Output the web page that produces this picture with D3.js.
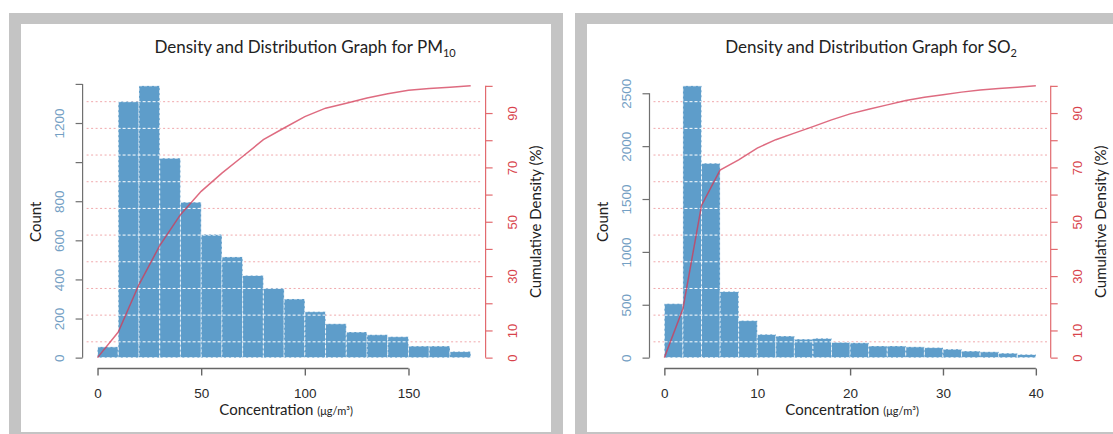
<!DOCTYPE html>
<html lang="en">
<head>
<meta charset="UTF-8">
<script src="https://d3js.org/d3.v7.min.js"></script>
<title>Density and Distribution Graphs</title>
<style>
  body { margin: 0; background: #fff; }
  svg text { font-family: "Liberation Sans", Arial, sans-serif; }
  .title, .axtitle { font-family: Lato, "Open Sans", sans-serif; fill: #222; }
  .grid-pink { stroke: #f0a9ac; stroke-width: 1; stroke-dasharray: 2 2.5; }
  .grid-white { stroke: #fff; stroke-width: 1; stroke-dasharray: 3 2; }
  .bar { fill: #5e9dca; stroke: #fff; stroke-width: 0.8; stroke-dasharray: 3 2; }
  .cum { fill: none; stroke: #d33a55; stroke-opacity: 0.75; stroke-width: 1.5; }
</style>
</head>
<body>
<svg id="chart" width="1113" height="434"></svg>
<script>
// ---- PM10 ----
const pm10Edges = [0, 10, 20, 30, 40, 50, 60, 70, 80, 90, 100, 110, 120, 130, 140, 150, 160, 170, 180];
const pm10Counts = [55, 1310, 1390, 1020, 795, 630, 515, 420, 355, 300, 235, 173, 131, 117, 107, 59, 59, 31];
const pm10CumX = [0, 10, 20, 30, 40, 50, 60, 70, 80, 90, 100, 110, 120, 130, 140, 150, 160, 170, 180];
const pm10CumPct = [0, 9.4, 26.9, 41.2, 52.6, 61.2, 67.9, 74.0, 80.2, 84.5, 88.7, 91.8, 93.6, 95.5, 97.1, 98.4, 99.0, 99.5, 100];
const pm10CountTicks = [0, 200, 400, 600, 800, 1000, 1200, 1400];
const pm10CountLabels = [0, 200, 400, 600, 800, 1200];
const pm10XTicks = [0, 50, 100, 150];

// ---- SO2 ----
const so2Edges = [0, 2, 4, 6, 8, 10, 12, 14, 16, 18, 20, 22, 24, 26, 28, 30, 32, 34, 36, 38, 40];
const so2Counts = [510, 2570, 1838, 625, 350, 220, 204, 175, 182, 145, 140, 110, 110, 102, 95, 80, 62, 55, 42, 30];
const so2CumX = [0, 2, 4, 6, 8, 10, 12, 14, 16, 18, 20, 22, 24, 26, 28, 30, 32, 34, 36, 38, 40];
const so2CumPct = [0, 18, 56, 69, 72.8, 77.1, 80.2, 82.6, 85, 87.5, 89.7, 91.4, 93, 94.6, 95.8, 96.7, 97.7, 98.5, 99, 99.5, 100];
const so2CountTicks = [0, 500, 1000, 1500, 2000, 2500];
const so2CountLabels = [0, 500, 1000, 1500, 2000, 2500];
const so2XTicks = [0, 10, 20, 30, 40];

// shared cumulative axis
const pctTicks = [0, 10, 20, 30, 40, 50, 60, 70, 80, 90, 100];
const pctLabels = [0, 10, 30, 50, 70, 90];

const svg = d3.select("#chart");

// gray frames round each panel
function frame(x, w) {
  svg.append("rect").attr("x", x).attr("y", 13).attr("width", w).attr("height", 430).attr("fill", "#c4c4c4");
  svg.append("rect").attr("x", x + 12).attr("y", 24).attr("width", w - 24).attr("height", 408).attr("fill", "#fff");
}
frame(9, 554);
frame(575, 562);

function drawPanel(p) {
  // plot region, R style: data range padded 4% each side
  const padX = (p.right - p.left) * 0.04 / 1.08;
  const padY = (p.bottom - p.top) * 0.04 / 1.08;
  const x = d3.scaleLinear()
    .domain([p.edges[0], p.edges[p.edges.length - 1]])
    .range([p.left + padX, p.right - padX]);
  const yCount = d3.scaleLinear()
    .domain([0, d3.max(p.counts)])
    .range([p.bottom - padY, p.top + padY]);
  const yPct = d3.scaleLinear()
    .domain([0, 100])
    .range([p.bottom - padY, p.top + padY]);

  const bins = p.counts.map((c, i) => ({ x0: p.edges[i], x1: p.edges[i + 1], n: c }));
  const gridY = d3.range(1, 11).map(i => p.bottom - i * (p.bottom - p.top) / 11);

  const g = svg.append("g");

  // pink dotted grid behind
  g.append("g").selectAll("line").data(gridY).join("line")
    .attr("class", "grid-pink")
    .attr("x1", p.left + 4).attr("x2", p.right - 3)
    .attr("y1", d => d).attr("y2", d => d);

  // bars
  g.append("g").selectAll("rect").data(bins).join("rect")
    .attr("class", "bar")
    .attr("x", d => x(d.x0)).attr("width", d => x(d.x1) - x(d.x0))
    .attr("y", d => yCount(d.n)).attr("height", d => yCount(0) - yCount(d.n));

  // white dashed grid, only over the bars
  const clip = g.append("clipPath").attr("id", "clip-" + p.id);
  clip.selectAll("rect").data(bins).join("rect")
    .attr("x", d => x(d.x0)).attr("width", d => x(d.x1) - x(d.x0))
    .attr("y", d => yCount(d.n)).attr("height", d => yCount(0) - yCount(d.n));
  g.append("g").attr("clip-path", "url(#clip-" + p.id + ")")
    .selectAll("line").data(gridY).join("line")
    .attr("class", "grid-white")
    .attr("x1", p.left).attr("x2", p.right)
    .attr("y1", d => d).attr("y2", d => d);

  // cumulative density line
  const line = d3.line().x(d => x(d[0])).y(d => yPct(d[1]));
  g.append("path").attr("class", "cum")
    .attr("d", line(p.cumX.map((v, i) => [v, p.cumPct[i]])));

  // left axis: count
  const yAx = g.append("g").attr("transform", `translate(${p.left},0)`)
    .call(d3.axisLeft(yCount).tickValues(p.countTicks).tickSize(7)
      .tickFormat(d => p.countLabels.includes(d) ? d : ""));
  yAx.select(".domain").remove();
  yAx.append("line")
    .attr("y1", yCount(0)).attr("y2", yCount(p.countTicks[p.countTicks.length - 1]))
    .attr("stroke", "#707070").attr("stroke-width", 1.2);
  yAx.selectAll(".tick line").attr("stroke", "#707070").attr("stroke-width", 1.2);
  yAx.selectAll(".tick text")
    .attr("transform", "rotate(-90)").attr("x", 0).attr("y", -23.5).attr("dy", "0.35em")
    .attr("text-anchor", "middle").attr("font-size", 13.5)
    .attr("font-family", "Liberation Sans, Arial, sans-serif")
    .attr("fill", "#74a0c4");

  // right axis: cumulative %
  const pAx = g.append("g").attr("transform", `translate(${p.right},0)`)
    .call(d3.axisRight(yPct).tickValues(pctTicks).tickSize(7)
      .tickFormat(d => pctLabels.includes(d) ? d : ""));
  pAx.select(".domain").remove();
  pAx.append("line").attr("y1", yPct(0)).attr("y2", yPct(100)).attr("stroke", "#e26a6e").attr("stroke-width", 1.2);
  pAx.selectAll(".tick line").attr("stroke", "#e26a6e").attr("stroke-width", 1.2);
  pAx.selectAll(".tick text")
    .attr("transform", "rotate(-90)").attr("x", 0).attr("y", 27).attr("dy", "0.35em")
    .attr("text-anchor", "middle").attr("font-size", 13)
    .attr("font-family", "Liberation Sans, Arial, sans-serif")
    .attr("fill", "#d8434b");

  // bottom axis
  const xAx = g.append("g").attr("transform", `translate(0,${p.bottom})`)
    .call(d3.axisBottom(x).tickValues(p.xTicks).tickSize(7).tickPadding(13));
  xAx.select(".domain").remove();
  xAx.append("line")
    .attr("x1", x(p.xTicks[0])).attr("x2", x(p.xTicks[p.xTicks.length - 1]))
    .attr("stroke", "#666").attr("stroke-width", 1.4);
  xAx.selectAll(".tick line").attr("stroke", "#666").attr("stroke-width", 1.4);
  xAx.selectAll(".tick text").attr("font-size", 13.5)
    .attr("font-family", "Liberation Sans, Arial, sans-serif").attr("fill", "#2a2a2a");

  const cx = (p.left + p.right) / 2;
  const cy = (p.top + p.bottom) / 2;

  // titles
  const t = g.append("text").attr("class", "title")
    .attr("x", cx + 21).attr("y", 53).attr("text-anchor", "middle").attr("font-size", 17);
  t.append("tspan").text("Density and Distribution Graph for " + p.species);
  t.append("tspan").attr("font-size", 11).attr("dy", 4).text(p.sub);

  const xt = g.append("text").attr("class", "axtitle")
    .attr("x", cx + 2).attr("y", 415).attr("text-anchor", "middle").attr("font-size", 15);
  xt.append("tspan").text("Concentration ");
  xt.append("tspan").attr("font-size", 11).text("(μg/m³)");

  g.append("text").attr("class", "axtitle")
    .attr("transform", `translate(${p.left - 47},${cy}) rotate(-90)`)
    .attr("dy", "0.35em").attr("text-anchor", "middle").attr("font-size", 15)
    .text("Count");

  g.append("text").attr("class", "axtitle")
    .attr("transform", `translate(${p.right + 50},${cy}) rotate(-90)`)
    .attr("dy", "0.35em").attr("text-anchor", "middle").attr("font-size", 15)
    .text("Cumulative Density (%)");
}

drawPanel({
  id: "pm10", species: "PM", sub: "10",
  left: 82.6, right: 485.6, top: 75, bottom: 368.5,
  edges: pm10Edges, counts: pm10Counts, cumX: pm10CumX, cumPct: pm10CumPct,
  countTicks: pm10CountTicks, countLabels: pm10CountLabels, xTicks: pm10XTicks
});

drawPanel({
  id: "so2", species: "SO", sub: "2",
  left: 649.5, right: 1050.7, top: 75, bottom: 368.5,
  edges: so2Edges, counts: so2Counts, cumX: so2CumX, cumPct: so2CumPct,
  countTicks: so2CountTicks, countLabels: so2CountLabels, xTicks: so2XTicks
});
</script>
</body>
</html>
